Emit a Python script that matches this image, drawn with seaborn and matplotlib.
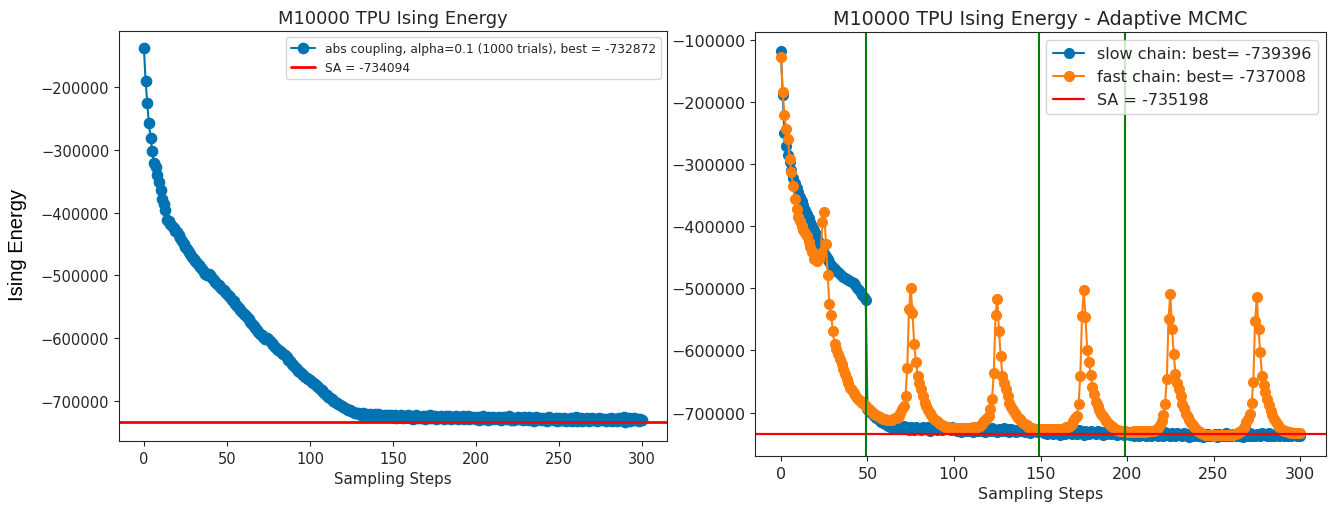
import matplotlib
matplotlib.use("Agg")
import matplotlib.pyplot as plt
import pandas as pd
import seaborn as sns

# ---------------- data ----------------
steps = list(range(301))

abs_coupling = [
    -137400, -190400, -226000, -257900, -280700, -301400, -321000, -327400, -340700, -351300,
    -364500, -377800, -385800, -396400, -412300, -413900, -418000, -421000, -425000, -428500,
    -431000, -436000, -441000, -445000, -450000, -454800, -458000, -462500, -466000, -470000,
    -473400, -476500, -480000, -483500, -486500, -489300, -494000, -497500, -499500, -498500,
    -500000, -503500, -507000, -510500, -513000, -515800, -519000, -521500, -524000, -527000,
    -529100, -532500, -535000, -538500, -541500, -545000, -548000, -551500, -554500, -557500,
    -560900, -563500, -567000, -570000, -573500, -576900, -580000, -583500, -587000, -590000,
    -592800, -595500, -598000, -600500, -599000, -601500, -605000, -608000, -610500, -613500,
    -616700, -618000, -620500, -623500, -625000, -627300, -630500, -634000, -637000, -640500,
    -643200, -646000, -648500, -651500, -654000, -656500, -658500, -661000, -663000, -665000,
    -667100, -669000, -671000, -673000, -675500, -677700, -680500, -683000, -685500, -688500,
    -691000, -693000, -695500, -697500, -699500, -701600, -703500, -705000, -706500, -708000,
    -709600, -711000, -712500, -714000, -715000, -716500, -717500, -718500, -719000, -719800,
    -720200, -721800, -719600, -723500, -720900, -724200, -721300, -722700, -725000, -721000,
    -723800, -720700, -725300, -722100, -724600, -721600, -726000, -722800, -724000, -721900,
    -725500, -722400, -726700, -723300, -724900, -721800, -727200, -723700, -725800, -722600,
    -726400, -723900, -728000, -724300, -722500, -727100, -724800, -726300, -723100, -728400,
    -724600, -726900, -722800, -727600, -725100, -723600, -728700, -725400, -727300, -723900,
    -726600, -728900, -724500, -727000, -723300, -728300, -725700, -726800, -724000, -729200,
    -725900, -727800, -723700, -728600, -726200, -724400, -729400, -726000, -727700, -724800,
    -728800, -725300, -729600, -726500, -724100, -728200, -726900, -730000, -725600, -727900,
    -724700, -729300, -726300, -728700, -725100, -730200, -727200, -724900, -728900, -726000,
    -723800, -729700, -726600, -730500, -727500, -725200, -729000, -726800, -731000, -725700,
    -728400, -730100, -726100, -729500, -727000, -731200, -725600, -728800, -727300, -730600,
    -726300, -729900, -727800, -731400, -725900, -729100, -728000, -730800, -726700, -731700,
    -727400, -729600, -730900, -726500, -732000, -728300, -730300, -727000, -731500, -728600,
    -726200, -731100, -729000, -727600, -732300, -728100, -730700, -726900, -731900, -729300,
    -727100, -730400, -728500, -732500, -726800, -731000, -729400, -727900, -732100, -728800,
    -730600, -726700, -731600, -729000, -728200, -732400, -727300, -730900, -729600, -725900,
    -732872, -728700, -726400, -731300, -729800, -727600, -730200, -728400, -731800, -729100,
    -730500,
]

slow_chain = [
    -117200, -188000, -250000, -270000, -285000, -296000, -310000, -322000, -330000, -338000,
    -345000, -352000, -360000, -366000, -373000, -380000, -386000, -393000, -400000, -406000,
    -413000, -419000, -425000, -431000, -437000, -443000, -448000, -453000, -458000, -462000,
    -466000, -469000, -472000, -474000, -477000, -480000, -482000, -484000, -485000, -486000,
    -488000, -490000, -492000, -495000, -499000, -503000, -507000, -510000, -514000, -518000,
    -694000, -697000, -700500, -703000, -706000, -708500, -711000, -713000, -715500, -717000,
    -718500, -720000, -721500, -722500, -723000, -724000, -723500, -724500, -722800, -725000,
    -723800, -722000, -726500, -724000, -728000, -723500, -725500, -727500, -722500, -726000,
    -724500, -728500, -723000, -725000, -727000, -724000, -729000, -723500, -726500, -725000,
    -727500, -722500, -726000, -728000, -724500, -727000, -723000, -725500, -728500, -724000,
    -726500, -725000, -729500, -727000, -731000, -726000, -728500, -730500, -725500, -729000,
    -727500, -731500, -726500, -728000, -730000, -725000, -729500, -727000, -731000, -726500,
    -728500, -730000, -724500, -729000, -727500, -731500, -726000, -728000, -730500, -725500,
    -729000, -727000, -731000, -726500, -729500, -728000, -732000, -727500, -730000, -726000,
    -729000, -731000, -727500, -729500, -732500, -728000, -730500, -727000, -731500, -729000,
    -730000, -729000, -733500, -731000, -735000, -730000, -732500, -734500, -729500, -733000,
    -731500, -735500, -730500, -732000, -734000, -729000, -733500, -731000, -735000, -730500,
    -732500, -734000, -728500, -733000, -731500, -735500, -730000, -732000, -734500, -729500,
    -733000, -731000, -735000, -730500, -733500, -732000, -736000, -731500, -734000, -730000,
    -733000, -735000, -731500, -733500, -736500, -732000, -734500, -731000, -735500, -733000,
    -734000, -732000, -736500, -734000, -738000, -733000, -735500, -737500, -732500, -736000,
    -734500, -738500, -733500, -735000, -737000, -732000, -736500, -734000, -738000, -733500,
    -735500, -737000, -731500, -736000, -734500, -738500, -733000, -735000, -737500, -732500,
    -736000, -734000, -738000, -733500, -736500, -735000, -739000, -734500, -737000, -733000,
    -736000, -738000, -734500, -736500, -739396, -735000, -737500, -734000, -738500, -736000,
    -737000, -735000, -739000, -734000, -737500, -736000, -738500, -733500, -737000, -735500,
    -738000, -734500, -736500, -738500, -733000, -737000, -735000, -739000, -734000, -736500,
    -738000, -733500, -737500, -735500, -738500, -734000, -736000, -737500, -733000, -736500,
    -735000, -738000, -733500, -737000, -735500, -738500, -734000, -736500, -737500, -733500,
    -736000, -738000, -734500, -737000, -735000, -738500, -734000, -736500, -737000, -735000,
    -738000,
]

fast_chain = [
    -127900, -183300, -220900, -243400, -259500, -291800, -312200, -334800, -356200, -372400,
    -385700, -392000, -399300, -406000, -411000, -415400, -426000, -433000, -442100, -452900,
    -446000, -455600, -452900, -443000, -393800, -376600, -428800, -478700, -525500, -543200,
    -568400, -589900, -598000, -606000, -614100, -622000, -630200, -638000, -646300, -653000,
    -659700, -664000, -667800, -671500, -675800, -679000, -681500, -683900, -686500, -689000,
    -691900, -694500, -697500, -700000, -702000, -704000, -705400, -707500, -709000, -710000,
    -710800, -711500, -712000, -711800, -711500, -710500, -709500, -708100, -705000, -700000,
    -695000, -689300, -673200, -627500, -533500, -498600, -538900, -589900, -618400, -641000,
    -652000, -662400, -673000, -683900, -690000, -695500, -700000, -704500, -708500, -711500,
    -713500, -716000, -718500, -720000, -721600, -722500, -723300, -724000, -724500, -724200,
    -724800, -724200, -725000, -724400, -724800, -724100, -724600, -724300, -724700, -724200,
    -724500, -723800, -724200, -723500, -722800, -721500, -718800, -716000, -712500, -709000,
    -705400, -695000, -678600, -635500, -543200, -516300, -568400, -608800, -641000, -652000,
    -662400, -673000, -683900, -690500, -695500, -700000, -704500, -708500, -711000, -713500,
    -716500, -718500, -720500, -722500, -724200, -725000, -725800, -726300, -726600, -726900,
    -727000, -726600, -727200, -726800, -727300, -726700, -727100, -726500, -727000, -726900,
    -726400, -726800, -726200, -725900, -725200, -724000, -722500, -721600, -718500, -714000,
    -708500, -705400, -686600, -641000, -544300, -503200, -546100, -599700, -618500, -640000,
    -658700, -670000, -682800, -690000, -696000, -701600, -706000, -710000, -713500, -716500,
    -719500, -722000, -724000, -726000, -727500, -728500, -729300, -729800, -730200, -730500,
    -730800, -731200, -730600, -731100, -730500, -731000, -730400, -730900, -730200, -730600,
    -730300, -730700, -730000, -730400, -729800, -729500, -728800, -727500, -725500, -720000,
    -713500, -704000, -685500, -645300, -548800, -508600, -564900, -605100, -637300, -652000,
    -661400, -673000, -685500, -693000, -701600, -707000, -712000, -716500, -720500, -724000,
    -727000, -729500, -731500, -733000, -734500, -735500, -736000, -736400, -736800, -736500,
    -737008, -736700, -736300, -736800, -736500, -736900, -736400, -736700, -736200, -736500,
    -736000, -735500, -735000, -734000, -733000, -731500, -729500, -726500, -722000, -716000,
    -710000, -703000, -685000, -650000, -553000, -514000, -566000, -603000, -641000, -656000,
    -667000, -678000, -688000, -697000, -704000, -710000, -715000, -719500, -723000, -726000,
    -728000, -729500, -730500, -731500, -732000, -732500, -732800, -733200, -733000, -733500,
    -733000,
]

sa_left = -734094
sa_right = -735198
switch_steps = [49, 149, 199]

left_label = "abs coupling, alpha=0.1 (1000 trials), best = -732872"
left_sa_label = "SA = -734094"
slow_label = "slow chain: best= -739396"
fast_label = "fast chain: best= -737008"
right_sa_label = "SA = -735198"

left_df = pd.DataFrame({"step": steps, "energy": abs_coupling})
right_df = pd.DataFrame({"step": steps, "slow": slow_chain, "fast": fast_chain})

# ---------------- style ----------------
sns.set_style("ticks")
plt.rcParams["font.family"] = ["DejaVu Sans"]

BLUE = "#0173b2"
ORANGE = "#ff7f0e"

W, H = 1332, 510
fig = plt.figure(figsize=(W / 100, H / 100), dpi=100)

def box(l, t, r, b):
    return [l / W, (H - b) / H, (r - l) / W, (b - t) / H]

# ---------------- left panel ----------------
ax1 = fig.add_axes(box(119, 32, 667, 442))
sns.lineplot(data=left_df, x="step", y="energy", ax=ax1, color=BLUE,
             marker="o", markersize=7.4, markeredgecolor=BLUE, markeredgewidth=1,
             linewidth=1.5, label=left_label, estimator=None, sort=False)
ax1.axhline(sa_left, color="red", linewidth=2, label=left_sa_label)
ax1.set_xlim(-15, 315)
ax1.set_ylim(-763700, -110800)
ax1.set_xticks([0, 50, 100, 150, 200, 250, 300])
ax1.set_yticks([-200000, -300000, -400000, -500000, -600000, -700000])
ax1.tick_params(labelsize=10.5)
ax1.set_title("M10000 TPU Ising Energy", fontsize=13)
ax1.set_xlabel("Sampling Steps", fontsize=10.8)
ax1.set_ylabel("Ising Energy", fontsize=14.5, family=["Liberation Sans", "DejaVu Sans"],
               color="black")
ax1.yaxis.set_label_coords(-0.168, 0.48)
ax1.legend(loc="upper right", fontsize=8.8)

# ---------------- right panel ----------------
ax2 = fig.add_axes(box(755, 33, 1326, 457))
sns.lineplot(data=right_df, x="step", y="slow", ax=ax2, color=BLUE,
             marker="o", markersize=7, markeredgecolor=BLUE, markeredgewidth=1,
             linewidth=1.5, label=slow_label, estimator=None, sort=False)
sns.lineplot(data=right_df, x="step", y="fast", ax=ax2, color=ORANGE,
             marker="o", markersize=7, markeredgecolor=ORANGE, markeredgewidth=1,
             linewidth=1.5, label=fast_label, estimator=None, sort=False)
ax2.axhline(sa_right, color="red", linewidth=1.6, label=right_sa_label)
for s in switch_steps:
    ax2.axvline(s, color="green", linewidth=1.5)
ax2.set_xlim(-15, 315)
ax2.set_ylim(-770000, -87000)
ax2.set_xticks([0, 50, 100, 150, 200, 250, 300])
ax2.set_yticks([-100000, -200000, -300000, -400000, -500000, -600000, -700000])
ax2.tick_params(labelsize=11.5)
ax2.set_title("M10000 TPU Ising Energy - Adaptive MCMC", fontsize=13.8)
ax2.set_xlabel("Sampling Steps", fontsize=11.5)
ax2.set_ylabel("")
ax2.legend(loc="upper right", fontsize=11.5)

fig.savefig("out.png", dpi=100)
